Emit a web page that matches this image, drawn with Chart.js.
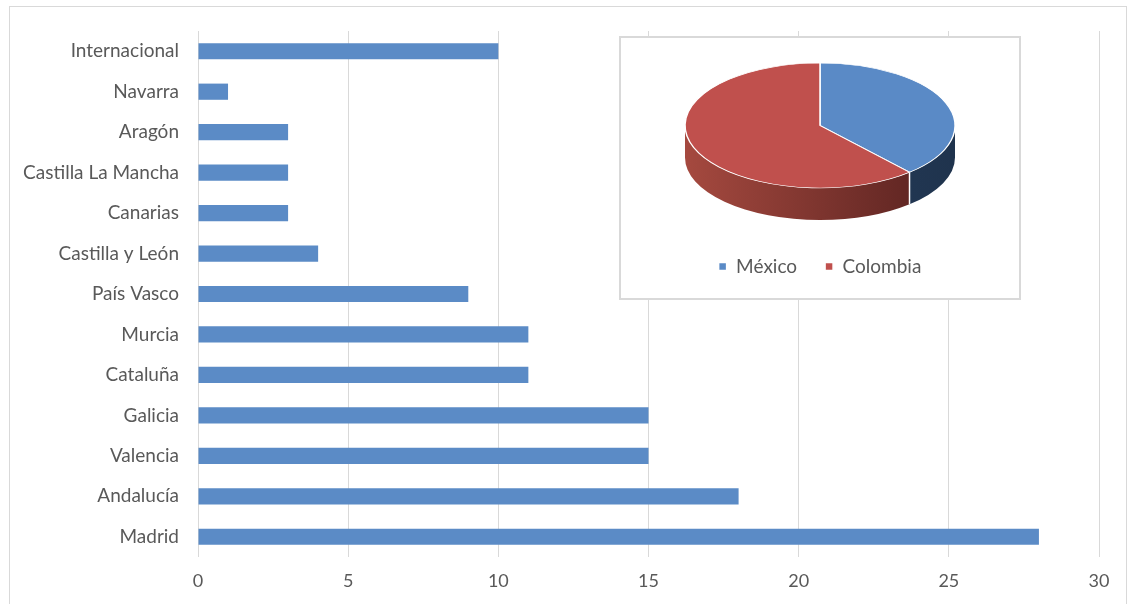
<!DOCTYPE html>
<html>
<head>
<meta charset="utf-8">
<script src="https://cdn.jsdelivr.net/npm/chart.js@4.4.0/dist/chart.umd.min.js"></script>
<style>
body{margin:0;background:#fff;}
#wrap{position:relative;width:1129px;height:604px;overflow:hidden;}
#frame{position:absolute;left:9px;top:6px;width:1116px;height:620px;border:1px solid #d9d9d9;}
#barCanvas{position:absolute;left:0;top:0;}
#pieFrame{position:absolute;left:619px;top:36px;width:398px;height:260px;border:2px solid #d9d9d9;background:#fff;}
#pieCanvas{position:absolute;left:621px;top:0;}
</style>
</head>
<body>
<div id="wrap">
  <div id="frame"></div>
  <canvas id="barCanvas" width="1129" height="604"></canvas>
  <div id="pieFrame"></div>
  <canvas id="pieCanvas" width="398" height="298"></canvas>
</div>
<script>
// bar chart data
const regions = ['Internacional', 'Navarra', 'Aragón', 'Castilla La Mancha', 'Canarias', 'Castilla y León',
  'País Vasco', 'Murcia', 'Cataluña', 'Galicia', 'Valencia', 'Andalucía', 'Madrid'];
const counts = [10, 1, 3, 3, 3, 4, 9, 11, 11, 15, 15, 18, 28];

// pie data
const countries = ['México', 'Colombia'];
const countryValues = [5, 8];

const textColor = '#595959';
const fontFamily = 'Lato, "Open Sans", sans-serif';

// main horizontal bar chart
const barChart = new Chart(document.getElementById('barCanvas'), {
  type: 'bar',
  data: {
    labels: regions,
    datasets: [{
      data: counts,
      backgroundColor: '#5b8bc6',
      barPercentage: 0.4,
      categoryPercentage: 1
    }]
  },
  options: {
    indexAxis: 'y',
    responsive: false,
    animation: false,
    devicePixelRatio: 1,
    layout: { padding: { top: 31, right: 30, left: 0, bottom: 0 } },
    plugins: { legend: { display: false }, tooltip: { enabled: false } },
    scales: {
      x: {
        min: 0, max: 30,
        ticks: { stepSize: 5, color: textColor, font: { family: fontFamily, size: 18 }, padding: 13 },
        grid: { color: '#d9d9d9', drawTicks: false },
        border: { display: false },
        afterFit: s => { s.height = 47; }
      },
      y: {
        ticks: { color: textColor, font: { family: fontFamily, size: 19 }, padding: 19 },
        grid: { display: false, drawTicks: false },
        border: { display: false },
        afterFit: s => { s.width = 198; }
      }
    }
  }
});

// 3d look for the pie: squash the top face and draw the side wall under it
const tilt = 0.463;
const depth = 32;
const sideColors = [['#2a4568', '#1f334d'], ['#a5493f', '#55201e']];

const pie3d = {
  id: 'pie3d',
  beforeDatasetsDraw(chart) {
    const ctx = chart.ctx;
    const arcs = chart.getDatasetMeta(0).data;
    if (!arcs.length) return;
    const cx = arcs[0].x, cy = arcs[0].y, r = arcs[0].outerRadius, ry = r * tilt;
    arcs.forEach((arc, i) => {
      [0, 2 * Math.PI].forEach(off => {
        const a0 = Math.max(arc.startAngle, off), a1 = Math.min(arc.endAngle, off + Math.PI);
        if (a1 <= a0) return;
        const g = ctx.createLinearGradient(cx - r, 0, cx + r, 0);
        g.addColorStop(0, sideColors[i][0]);
        g.addColorStop(1, sideColors[i][1]);
        ctx.beginPath();
        ctx.ellipse(cx, cy, r, ry, 0, a0, a1);
        ctx.ellipse(cx, cy + depth, r, ry, 0, a1, a0, true);
        ctx.closePath();
        ctx.fillStyle = g;
        ctx.fill();
      });
    });
    // white seam where two slices meet on the wall
    ctx.strokeStyle = '#fff';
    ctx.lineWidth = 1.5;
    arcs.forEach(arc => {
      const a = arc.startAngle;
      if (a > 0 && a < Math.PI) {
        const x = cx + r * Math.cos(a), y = cy + ry * Math.sin(a);
        ctx.beginPath();
        ctx.moveTo(x, y);
        ctx.lineTo(x, y + depth);
        ctx.stroke();
      }
    });
    ctx.save();
    ctx.translate(cx, cy);
    ctx.scale(1, tilt);
    ctx.translate(-cx, -cy);
  },
  afterDatasetsDraw(chart) {
    chart.ctx.restore();
  }
};

const pieChart = new Chart(document.getElementById('pieCanvas'), {
  type: 'pie',
  data: {
    labels: countries,
    datasets: [{
      data: countryValues,
      backgroundColor: ['#5a8ac6', '#c0504d'],
      borderColor: '#fff',
      borderWidth: 1.5,
      radius: 135,
      clip: false
    }]
  },
  options: {
    responsive: false,
    animation: false,
    devicePixelRatio: 1,
    layout: { padding: { top: 22, bottom: 12 } },
    plugins: {
      tooltip: { enabled: false },
      legend: {
        position: 'bottom',
        labels: {
          boxWidth: 8, boxHeight: 8, padding: 28,
          color: textColor, font: { family: fontFamily, size: 19 }
        }
      }
    }
  },
  plugins: [pie3d]
});
</script>
</body>
</html>
